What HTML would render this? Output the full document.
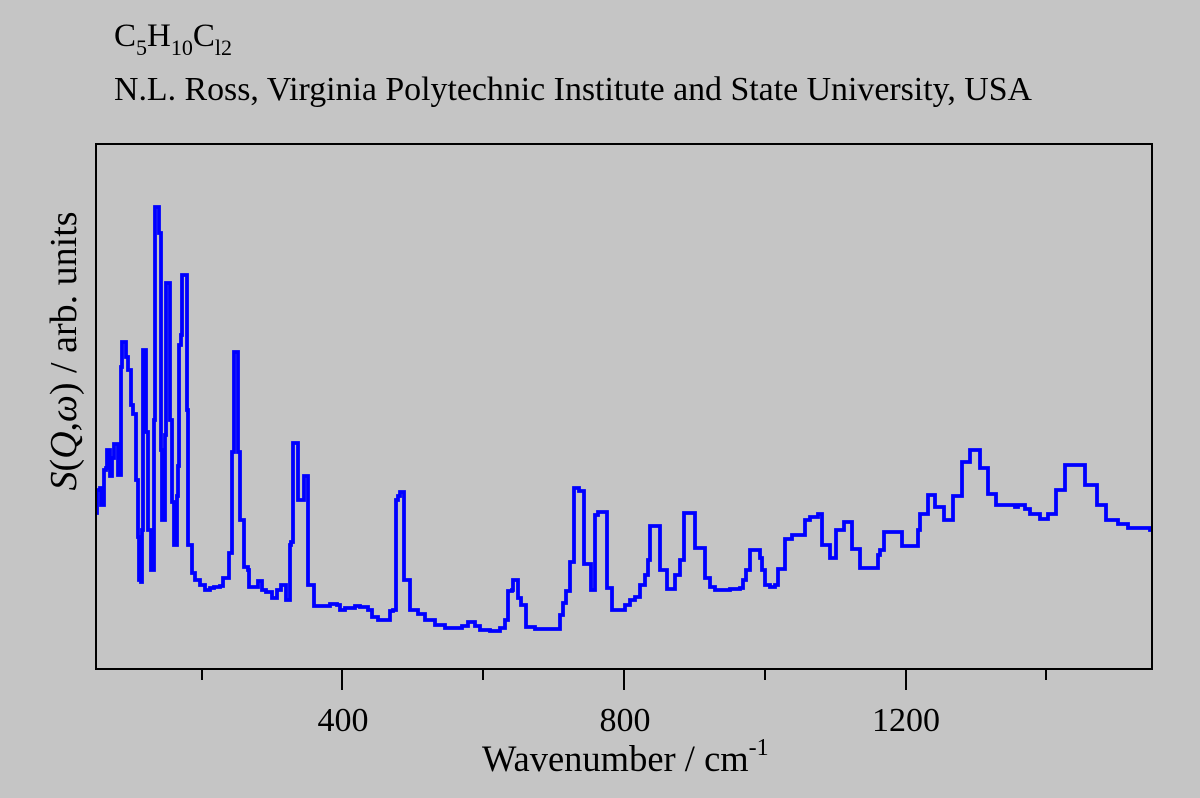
<!DOCTYPE html>
<html><head><meta charset="utf-8"><style>
html,body{margin:0;padding:0;background:#c5c5c5;}
svg{display:block;}
text{font-family:"Liberation Serif",serif;fill:#000;}
</style></head><body>
<svg width="1200" height="798" viewBox="0 0 1200 798" xmlns="http://www.w3.org/2000/svg">
<rect width="1200" height="798" fill="#c5c5c5"/>
<text x="114" y="46" font-size="33">C<tspan font-size="22" dy="9">5</tspan><tspan dy="-9">H</tspan><tspan font-size="22" dy="9">10</tspan><tspan dy="-9">C</tspan><tspan font-size="22" dy="9">l2</tspan></text>
<text x="114" y="100" font-size="33.5" textLength="918" lengthAdjust="spacingAndGlyphs">N.L. Ross, Virginia Polytechnic Institute and State University, USA</text>
<path id="sp" fill="none" stroke="#0000ff" stroke-width="3.8" stroke-linejoin="miter" d=""/>
<rect x="96" y="144" width="1056" height="525" fill="none" stroke="#000" stroke-width="2"/>
<g stroke="#000" stroke-width="2">
<line x1="202" y1="669" x2="202" y2="680"/>
<line x1="342" y1="669" x2="342" y2="690"/>
<line x1="483" y1="669" x2="483" y2="680"/>
<line x1="624" y1="669" x2="624" y2="690"/>
<line x1="765" y1="669" x2="765" y2="680"/>
<line x1="906" y1="669" x2="906" y2="690"/>
<line x1="1046" y1="669" x2="1046" y2="680"/>
</g>
<g font-size="34" text-anchor="middle">
<text x="343" y="731">400</text>
<text x="625" y="731">800</text>
<text x="906" y="731">1200</text>
</g>
<text x="482" y="771" font-size="36.5">Wavenumber / cm<tspan font-size="24" dy="-16">-1</tspan></text>
<text transform="translate(76,351) rotate(-90)" text-anchor="middle" font-size="38"><tspan font-style="italic">S</tspan>(<tspan font-style="italic">Q</tspan>,<tspan font-style="italic">ω</tspan>) / arb. units</text>
</svg>
<script>
var p=[96,513,97,490,100,488,101,505,103,505,104,470,106,468,107,450,109,450,110,476,112,458,113,458,114,444,117,444,118,475,120,475,121,367,122,342,125,342,126,357,127,357,128,370,130,370,131,405,133,414,135,414,136,480,138,537,139,580,141,582,142,530,143,350,145,350,146,432,148,530,150,530,151,570,153,570,154,420,155,207,158,207,159,233,160,233,161,450,162,520,164,520,165,435,166,283,169,283,170,420,172,502,174,545,176,545,177,496,178,466,179,345,181,335,182,275,186,275,187,410,188,545,190,545,192,573,194,573,195,580,198,580,200,585,204,585,205,590,210,588,214,587,220,586,223,578,227,578,229,553,231,553,232,452,234,352,237,352,238,452,240,520,242,520,244,567,248,570,249,587,255,587,258,581,262,590,266,592,270,592,272,598,276,598,277,590,279,590,281,585,285,585,286,600,289,600,290,545,291,542,293,443,297,443,298,500,303,500,304,476,307,476,308,585,312,585,314,606,320,606,330,604,337,605,340,610,345,608,350,608,355,606,360,607,368,610,372,617,378,620,385,620,390,611,393,610,396,500,398,496,400,492,403,492,404,580,408,580,410,610,418,614,425,620,435,625,445,628,455,628,462,626,468,622,475,626,480,630,490,631,500,628,505,620,508,591,512,590,513,580,517,580,518,598,521,605,524,605,526,627,535,629,557,629,560,615,563,603,566,591,570,562,573,562,574,488,578,488,579,491,583,491,584,564,590,564,591,590,594,590,595,515,598,512,606,512,607,588,612,610,620,610,625,605,630,600,635,597,640,585,645,575,648,560,650,526,658,526,660,570,664,570,667,589,673,589,675,575,678,575,680,560,683,560,684,513,694,513,695,548,702,548,705,578,710,587,715,590,720,590,730,589,740,588,743,580,746,570,750,550,757,550,760,558,762,570,765,585,770,587,775,585,778,569,782,569,785,539,790,539,792,535,800,535,805,520,810,517,818,514,821,514,822,545,829,545,830,558,835,558,836,530,843,530,844,522,850,522,852,549,858,549,860,568,876,568,878,555,880,550,884,532,900,532,902,546,914,546,918,530,920,514,926,514,928,495,933,495,935,507,941,507,944,520,950,520,953,496,960,496,962,462,968,462,970,450,975,450,980,468,985,468,988,494,993,494,996,505,1010,505,1015,507,1018,505,1023,505,1025,509,1028,509,1030,514,1037,514,1040,519,1045,519,1048,514,1053,514,1056,490,1063,490,1065,465,1085,465,1085,485,1097,485,1097,505,1104,505,1106,520,1115,520,1118,524,1126,524,1128,528,1148,528,1150,530,1152,530];
var d="M"+p[0]+" "+p[1];
for(var i=2;i<p.length;i+=2){d+=" H"+p[i]+" V"+p[i+1];}
document.getElementById("sp").setAttribute("d",d);
</script>
</body></html>
